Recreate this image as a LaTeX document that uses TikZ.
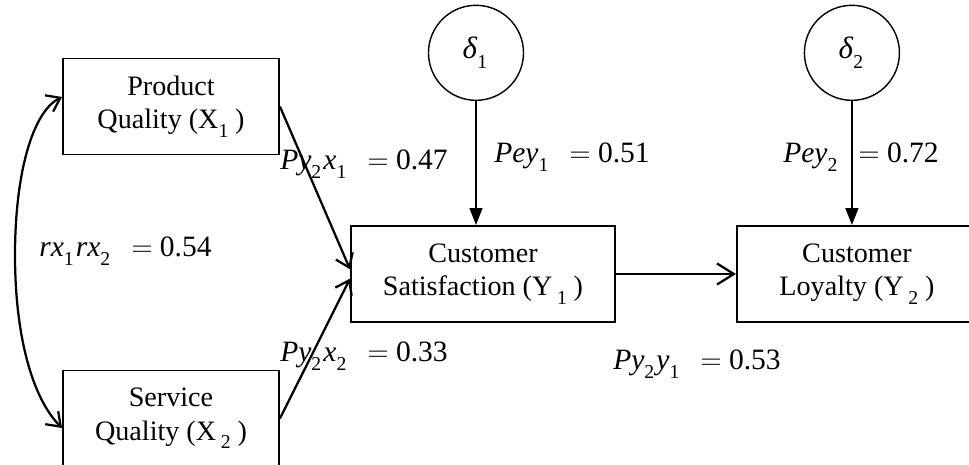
\documentclass[tikz,border=0pt]{standalone}
\usepackage{fontspec}
\setmainfont{Liberation Serif}
\usetikzlibrary{arrows.meta,positioning}
\newcommand\lowsub[1]{\raisebox{-0.3em}{\fontsize{14}{14}\selectfont #1}\kern1.5pt}
\newcommand\eqv{\hspace{0.65em}$=$\hspace{0.25em}}

\begin{document}
\begin{tikzpicture}[
  x=0.025cm, y=-0.025cm, node distance=3cm,
  var/.style={draw, line width=1.3pt, minimum height=2.4cm, align=center, inner sep=0pt, font=\fontsize{20}{24}\selectfont},
  err/.style={draw, circle, line width=1pt, minimum size=2.375cm, inner sep=0pt, font=\fontsize{22}{24}\selectfont},
  link/.style={draw, line width=1.6pt, -{Straight Barb[length=9pt,width=13pt]}},
  dist/.style={draw, line width=1.6pt, -{Triangle[length=12pt,width=9pt]}},
  corr/.style={draw, line width=1.6pt, {Straight Barb[length=9pt,width=13pt]}-{Straight Barb[length=9pt,width=13pt]}},
  lab/.style={anchor=base west, inner sep=0pt, font=\fontsize{21}{24}\selectfont}
]
\useasboundingbox (0,0) rectangle (969,465);
% variables
\node[var, minimum width=5.4cm] (pq) at (171,106.5) {Product\\Quality (X\lowsub{1}\,)};
\node[var, minimum width=5.4cm] (sq) at (171,418.5) {Service\\Quality (X\,\lowsub{2}\,)};
\node[var, minimum width=6.6cm] (cs) at (483,274) {Customer\\Satisfaction (Y\,\lowsub{1}\,)};
\node[var, minimum width=6cm, right=of cs] (cl) {Customer\\Loyalty (Y\,\lowsub{2}\,)};
% error terms
\node[err, above=3.1cm of cs, xshift=-0.175cm] (d1) {\textit{δ}\lowsub{1}};
\node[err, above=3.1cm of cl, xshift=-0.125cm] (d2) {\textit{δ}\lowsub{2}};
% paths
\draw[link] (pq.east) -- (cs.178);
\draw[link] (sq.east) -- (cs.182);
\draw[link, -{Straight Barb[length=12pt,width=15pt]}] (cs) -- (cl);
\draw[dist] (d1) -- (d1 |- cs.north);
\draw[dist] (d2) -- (d2 |- cl.north);
\draw[corr] (pq.175) .. controls (32,112) and (15,175) .. (15,255) .. controls (15,335) and (32,398) .. (sq.185);
% coefficients
\node[lab] (lpx1) at (280,170) {\textit{Py}\lowsub{2}\textit{x}\lowsub{1}\eqv 0.47};
\node[lab] (ley1) at (494,163) {\textit{Pey}\lowsub{1}\eqv 0.51};
\node[lab] (ley2) at (783,163) {\textit{Pey}\lowsub{2}\eqv 0.72};
\node[lab] (lrx) at (39,257) {\textit{rx}\lowsub{1}\textit{rx}\lowsub{2}\eqv 0.54};
\node[lab] (lpx2) at (280,362) {\textit{Py}\lowsub{2}\textit{x}\lowsub{2}\eqv 0.33};
\node[lab] (lpy1) at (613,370) {\textit{Py}\lowsub{2}\textit{y}\lowsub{1}\eqv 0.53};
\end{tikzpicture}
\end{document}
